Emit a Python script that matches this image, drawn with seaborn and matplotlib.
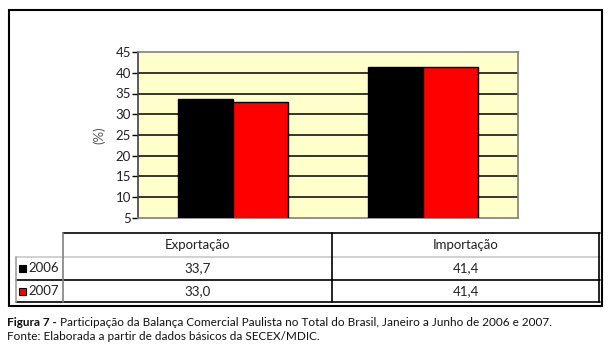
import matplotlib
matplotlib.use("Agg")
import matplotlib.pyplot as plt
import seaborn as sns
import pandas as pd
from matplotlib.lines import Line2D
from matplotlib.patches import Rectangle

categories = ["Exportação", "Importação"]
years = ["2006", "2007"]
values_2006 = [33.7, 41.4]
values_2007 = [33.0, 41.4]
yticks = [5, 10, 15, 20, 25, 30, 35, 40, 45]
colors = ["#000000", "#ff0000"]
caption_bold = "Figura 7 -"
caption_rest = " Participação da Balança Comercial Paulista no Total do Brasil, Janeiro a Junho de 2006 e 2007."
source = "Fonte: Elaborada a partir de dados básicos da SECEX/MDIC."

sns.set_style("white")
plt.rcParams["font.family"] = ["Lato", "DejaVu Sans"]

W, H = 609, 348
fig = plt.figure(figsize=(W / 100, H / 100), dpi=100)

def fx(x):
    return x / W

def fy(y):
    return 1 - y / H

df = pd.DataFrame({
    "cat": categories * 2,
    "year": [years[0]] * 2 + [years[1]] * 2,
    "val": values_2006 + values_2007,
})

ax = fig.add_axes([fx(138), fy(218), fx(518) - fx(138), fy(52) - fy(218)])
ax.set_facecolor("#ffffcc")
sns.barplot(data=df, x="cat", y="val", hue="year", palette=colors,
            saturation=1, width=0.575, edgecolor="black", linewidth=1,
            ax=ax, legend=False, zorder=3)
ax.set_ylim(5, 45)
ax.set_yticks(yticks)
for t in yticks[1:-1]:
    ax.axhline(t, color="black", lw=1.1, zorder=1)
ax.set_xticks([])
ax.set_xlabel("")
ax.set_ylabel("(%)", color="#555555", fontsize=9.5, labelpad=7)
ax.tick_params(axis="y", labelsize=9.5, length=4, width=1, color="black",
               left=True, pad=1, labelcolor="#222222")
for s in ["top", "right", "bottom"]:
    ax.spines[s].set_color("#808080")
    ax.spines[s].set_linewidth(1.2)
ax.spines["left"].set_color("#404040")
ax.spines["left"].set_linewidth(1.2)

# outer frame
fig.add_artist(Rectangle((fx(9), fy(306)), fx(602) - fx(9), fy(10) - fy(306),
                         fill=False, edgecolor="black", lw=1.5,
                         transform=fig.transFigure))

def hline(y, x0, x1, c="black", lw=1.2):
    fig.add_artist(Line2D([fx(x0), fx(x1)], [fy(y), fy(y)], color=c, lw=lw,
                          transform=fig.transFigure))

def vline(x, y0, y1, c="black", lw=1.2):
    fig.add_artist(Line2D([fx(x), fx(x)], [fy(y0), fy(y1)], color=c, lw=lw,
                          transform=fig.transFigure))

hline(233, 63, 600)
hline(257, 16, 600, c="#c8c8c8")
hline(280, 16, 600)
hline(302, 16, 600)
vline(63, 233, 302, c="#808080")
vline(332, 233, 302)
vline(599, 233, 302)
vline(16, 257, 302, c="#a0a0a0")

col_centers = [197.5, 466]
row_y = [268.5, 291]
for cx, cat in zip(col_centers, categories):
    fig.text(fx(cx), fy(245), cat, ha="center", va="center", fontsize=9.5,
             color="#222222")
for ry, yr, vals, c in zip(row_y, years, [values_2006, values_2007], colors):
    fig.add_artist(Rectangle((fx(18.5), fy(ry + 3.5)), fx(7), fy(0) - fy(7),
                             facecolor=c, edgecolor="black", lw=0.8,
                             transform=fig.transFigure))
    fig.text(fx(28), fy(ry), yr, ha="left", va="center", fontsize=9.5,
             color="#222222")
    for cx, v in zip(col_centers, vals):
        fig.text(fx(cx), fy(ry), f"{v:.1f}".replace(".", ","), ha="center",
                 va="center", fontsize=9.5, color="#222222")

tb = fig.text(fx(7), fy(323), caption_bold, ha="left", va="center",
              fontsize=8.5, fontweight="bold", color="#111111")
fig.canvas.draw()
bb = tb.get_window_extent()
fig.text(bb.x1 / W, fy(323), caption_rest, ha="left", va="center",
         fontsize=8.5, color="#111111")
fig.text(fx(7), fy(337), source, ha="left", va="center", fontsize=8.5,
         color="#111111")

fig.savefig("out.png", dpi=100)
